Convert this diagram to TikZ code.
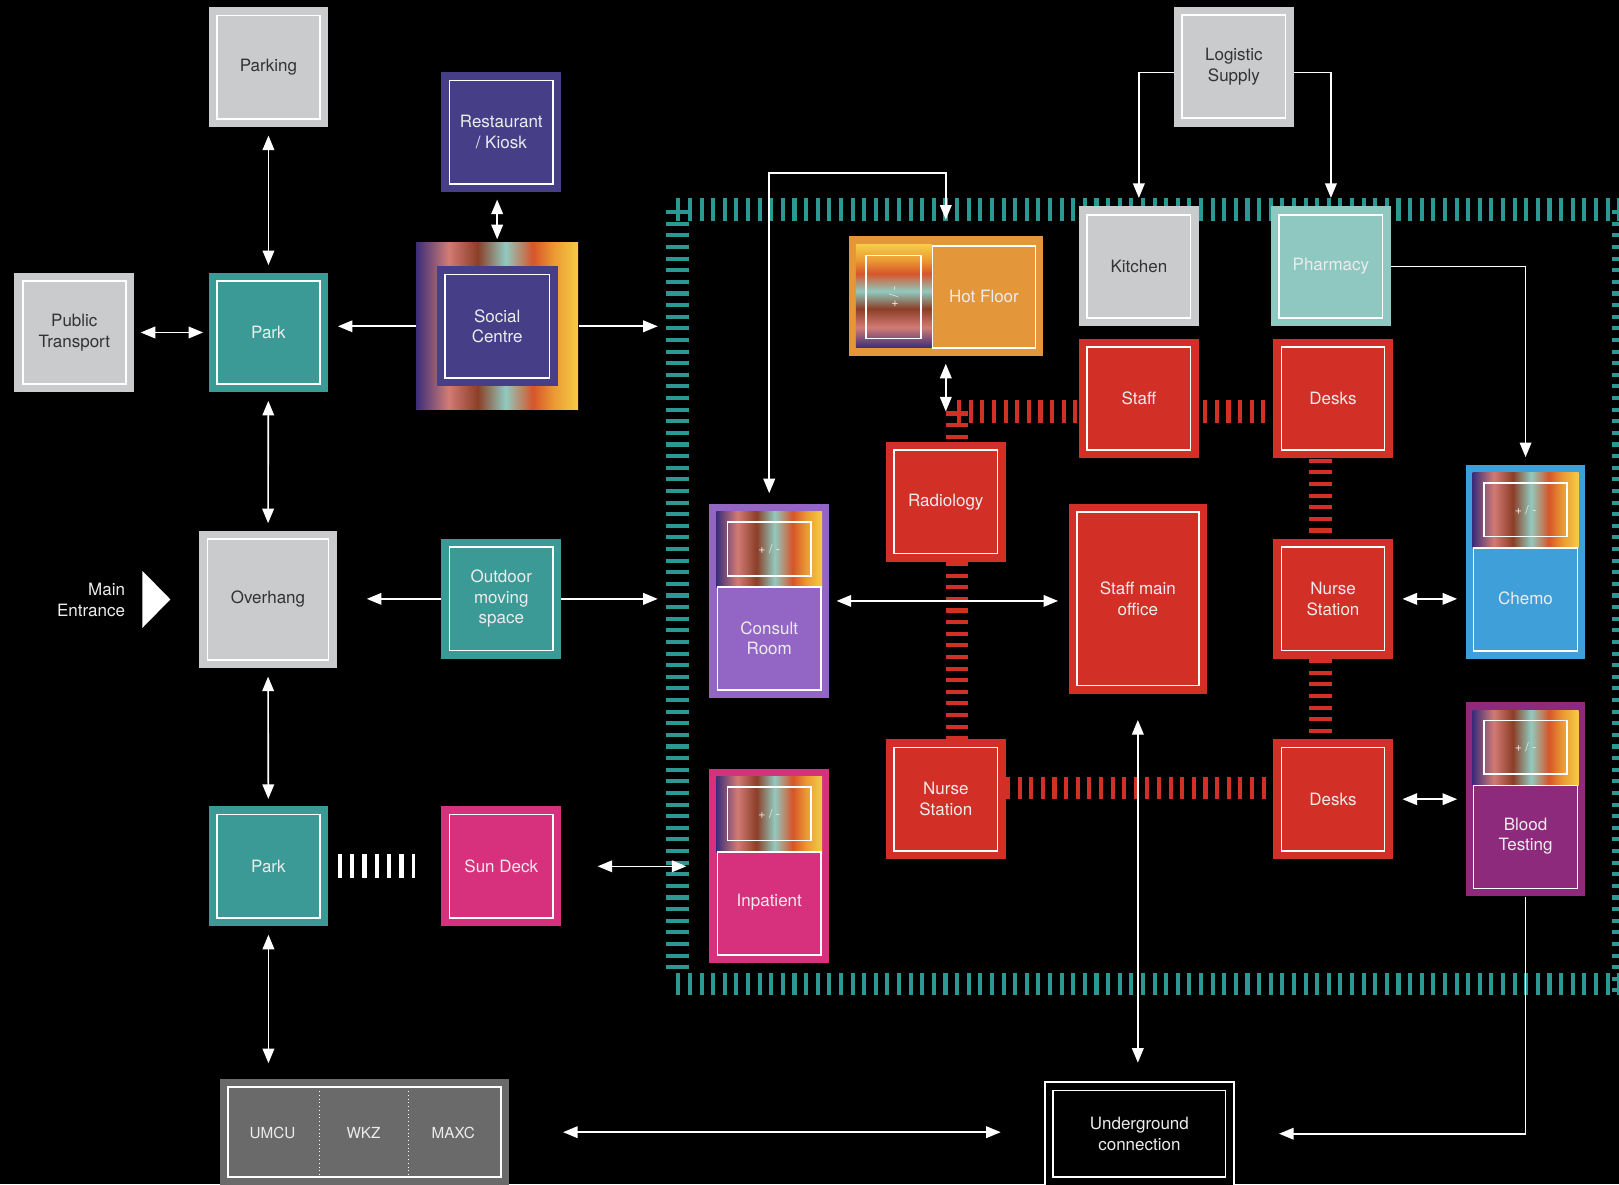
\documentclass[tikz,border=0pt]{standalone}
\usepackage{fontspec}
\setmainfont{TeX Gyre Heros}
\usetikzlibrary{arrows.meta,calc,positioning}

\definecolor{boxgrey}{HTML}{C9CBCD}
\definecolor{boxteal}{HTML}{3C9A96}
\definecolor{boxindigo}{HTML}{463F88}
\definecolor{boxmagenta}{HTML}{D7307C}
\definecolor{boxred}{HTML}{D22F26}
\definecolor{boxorange}{HTML}{E4973A}
\definecolor{boxmint}{HTML}{8FC8C0}
\definecolor{boxpurple}{HTML}{9366C6}
\definecolor{boxblue}{HTML}{3F9FD9}
\definecolor{boxplum}{HTML}{8E2A7C}
\definecolor{boxdark}{HTML}{6A6A6A}
\definecolor{fenceteal}{HTML}{2A9893}
\definecolor{lighttext}{HTML}{ECECEC}
\definecolor{darktext}{HTML}{333333}
\definecolor{gIndigo}{HTML}{3B2D7A}
\definecolor{gPink}{HTML}{D27B75}
\definecolor{gBrown}{HTML}{8C3E27}
\definecolor{gTeal}{HTML}{91CABF}
\definecolor{gRed}{HTML}{D6552A}
\definecolor{gOrange}{HTML}{EB9A33}
\definecolor{gYellow}{HTML}{F6CC46}
\pgfdeclarehorizontalshading{spectrum}{100bp}{color(0bp)=(gIndigo); color(25bp)=(gIndigo);
  color(35bp)=(gPink); color(44bp)=(gBrown); color(52.5bp)=(gTeal); color(61bp)=(gRed);
  color(67.5bp)=(gOrange); color(75bp)=(gYellow); color(100bp)=(gYellow)}

\tikzset{
  box/.style={fill=#1, inner sep=0pt, minimum width=2.9cm, minimum height=2.9cm,
    align=center, text=lighttext,
    path picture={\draw[white, line width=1.1pt]
      ([shift={(0.2cm,0.2cm)}]path picture bounding box.south west) rectangle
      ([shift={(-0.2cm,-0.2cm)}]path picture bounding box.north east);}},
  greybox/.style={box=boxgrey, text=darktext},
  card/.style={fill=#1, inner sep=0pt, minimum width=2.9cm, minimum height=4.7cm},
  link/.style={draw=white, line width=1.1pt, -{Triangle[length=10pt,width=8pt]}},
  both/.style={link, {Triangle[length=10pt,width=8pt]}-{Triangle[length=10pt,width=8pt]}},
  fence/.style={draw=#1, line width=15.6pt, dash pattern=on 2.8pt off 5.2pt},
  redlink/.style={fence=boxred},
  small/.style={font=\fontsize{8.5}{10}\selectfont}
}

\begin{document}
\begin{tikzpicture}[x=0.025cm, y=-0.025cm,
  every node/.style={font=\fontsize{11.7}{14.2}\selectfont, text=lighttext, align=center}]
  \fill[black] (0,0) rectangle (1568,1147);
  \useasboundingbox (0,0) rectangle (1568,1147);

  % department frame
  \draw[fence=fenceteal] (655,203) -- (1572,203);
  \draw[fence=fenceteal] (656,203.5) -- (656,945);
  \draw[fence=fenceteal] (655,953) -- (1572,953);
  \draw[fence=fenceteal] (1572,203.5) -- (1572,965);
  \coordinate (frame) at (645,203);

  % outside
  \node[greybox] (parking) at (260,65) {Parking};
  \node[box=boxindigo] (restaurant) at (485.5,128) {Restaurant\\/ Kiosk};
  \node[greybox] (transport) at (72,322) {Public\\Transport};
  \node[box=boxteal] (parkA) at (260,322) {Park};
  \node[shading=spectrum, minimum width=3.925cm, minimum height=4.05cm] (social) at (481.5,316) {};
  \node[box=boxindigo, minimum width=2.925cm] (socialin) at (481.5,316) {Social\\Centre};
  \node[greybox, minimum width=3.325cm, minimum height=3.325cm] (overhang) at (259.5,580.5) {Overhang};
  \node[box=boxteal] (outdoor) at (485.5,580) {Outdoor\\moving\\space};
  \node[box=boxteal] (parkB) at (260,839) {Park};
  \node[box=boxmagenta] (sundeck) at (485.5,839) {Sun Deck};

  \fill[white] (138,553) -- (165,580.5) -- (138,608) -- cycle;
  \node[anchor=east, align=right] (entrance) at (126,581) {Main\\Entrance};

  \node[box=boxdark, minimum width=7cm, minimum height=2.575cm] (campus) at (353,1096.5) {};
  \draw[white, dotted, line width=0.6pt] (309,1053) -- (309,1140);
  \draw[white, dotted, line width=0.6pt] (396,1053) -- (396,1140);
  \node[font=\fontsize{10.5}{12}\selectfont] (umcu) at (264,1097) {UMCU};
  \node[font=\fontsize{10.5}{12}\selectfont] (wkz) at (352,1097) {WKZ};
  \node[font=\fontsize{10.5}{12}\selectfont] (maxc) at (439,1097) {MAXC};

  \node[draw=white, double=black, double distance=4.7pt, line width=1.1pt,
    minimum width=4.375cm, minimum height=2.3cm] (under) at (1103.5,1098) {Underground\\connection};

  % supply
  \node[greybox] (logistic) at (1195,64.5) {Logistic\\Supply};
  \node[greybox] (kitchen) at (1103,258) {Kitchen};
  \node[box=boxmint] (pharmacy) at (1289,258) {Pharmacy};

  % hot floor
  \node[fill=boxorange, minimum width=4.7cm, minimum height=2.9cm, inner sep=0pt] (hotfloor) at (916,287) {};
  \shade[shading=spectrum, shading angle=90] (829,237) rectangle (902.3,337);
  \draw[white, line width=1.1pt] (839,247.5) rectangle (892,328);
  \node[small, rotate=90] (hotsign) at (865.5,287.5) {+ / -};
  \draw[white, line width=1.1pt] (903,238) rectangle (1003,337);
  \node (hotlabel) at (953,287.5) {Hot Floor};

  % ward
  \node[box=boxred] (staff) at (1103,386) {Staff};
  \node[box=boxred] (desksA) at (1291,386) {Desks};
  \node[box=boxred] (radiology) at (916,486) {Radiology};
  \node[box=boxred, minimum width=3.35cm, minimum height=4.6cm] (office) at (1102,580) {Staff main\\office};
  \node[box=boxred] (nurseA) at (1291,580) {Nurse\\Station};
  \node[box=boxred] (nurseB) at (916,774) {Nurse\\Station};
  \node[box=boxred] (desksB) at (1291,774) {Desks};

  \node[card=boxpurple] (consult) at (745,582) {};
  \node[card=boxmagenta] (inpatient) at (745,838.5) {};
  \node[card=boxblue] (chemo) at (1477.5,544) {};
  \node[card=boxplum] (blood) at (1477.5,774) {};
  \foreach \card in {consult,inpatient,chemo,blood} {
    \shade[shading=spectrum] ($(\card.north west)+(7,8)$) rectangle ($(\card.north east)+(-7,81)$);
    \draw[white, line width=1.1pt] ($(\card.north west)+(18,18)$) rectangle ($(\card.north east)+(-18,70)$);
    \node[small] (\card-sign) at ($(\card.north)+(0,44)$) {+ / -};
    \draw[white, line width=1.1pt] ($(\card.north west)+(8,81)$) rectangle ($(\card.south east)+(-8,-8)$);
  }
  \node (consulttext) at ($(consult.north)+(0,130.5)$) {Consult\\Room};
  \node (inpatienttext) at ($(inpatient.north)+(0,130)$) {Inpatient};
  \node (chemotext) at ($(chemo.north)+(0,130)$) {Chemo};
  \node (bloodtext) at ($(blood.north)+(0,130)$) {Blood\\Testing};

  % red links
  \coordinate (rcorner) at (927,398.5);
  \draw[redlink] (rcorner) -- (rcorner -| staff.west);
  \draw[redlink] (rcorner) -- (rcorner |- radiology.north);
  \draw[redlink, shorten <=0.1cm, shorten >=0.1cm] ([yshift=-0.3125cm]staff.east) -- ([yshift=-0.3125cm]desksA.west);
  \draw[redlink] ([xshift=0.275cm]radiology.south) -- ([xshift=0.275cm]nurseB.north);
  \draw[redlink] ([xshift=-0.3cm]desksA.south) -- ([xshift=-0.3cm]nurseA.north);
  \draw[redlink] ([xshift=-0.3cm]nurseA.south) -- ([xshift=-0.3cm]desksB.north);
  \draw[redlink] ([yshift=0.275cm]nurseB.east) -- ([yshift=0.275cm]desksB.west);

  \draw[white, line width=16.3pt, dash pattern=on 3pt off 5.5pt,
    shorten <=0.215cm, shorten >=0.625cm] (parkB) -- (sundeck);

  % arrows
  \draw[both, shorten <=0.2cm, shorten >=0.175cm] (parking) -- (parkA);
  \draw[both, shorten <=0.075cm, shorten >=0.175cm] (social.north) -- (social.north |- restaurant.south);
  \draw[both, shorten <=0.15cm, shorten >=0.125cm] (transport) -- (parkA);
  \draw[link, shorten >=0.225cm] (social.west) -- (social.west -| parkA.east);
  \draw[link, shorten >=0.2cm] (social.east) -- (social.east -| frame);
  \draw[both, shorten <=0.2cm, shorten >=0.175cm] (parkA) -- (overhang);
  \draw[link, shorten >=0.725cm] (outdoor.west) -- (outdoor.west -| overhang.east);
  \draw[link, shorten >=0.2cm] (outdoor.east) -- (outdoor.east -| frame);
  \draw[both, shorten <=0.2cm, shorten >=0.175cm] (overhang) -- (parkB);
  \draw[both, shorten <=0.2cm, shorten >=0.375cm] (parkB.south) -- (parkB.south |- campus.north);
  \draw[both, shorten <=0.875cm, shorten >=0.55cm] (sundeck.east) -- (sundeck.east -| inpatient.west);
  \draw[both, shorten <=1.3cm, shorten >=1.15cm] (campus.east) -- (campus.east -| under.west);
  \draw[link, shorten >=1.175cm] (blood.south) |- (under.east);
  \draw[both, shorten <=0.625cm, shorten >=0.55cm] (office.south) -- (office.south |- under.north);
  \draw[both, shorten <=0.175cm, shorten >=0.25cm] (consult.east) -- (consult.east -| office.west);
  \draw[both, shorten <=0.225cm, shorten >=0.2cm] (nurseA.east) -- (nurseA.east -| chemo.west);
  \draw[both, shorten <=0.225cm, shorten >=0.2cm] (desksB.east) -- (desksB.east -| blood.west);
  \draw[link, shorten >=0.175cm] (pharmacy.east) -| (chemo.north);
  \draw[link, shorten >=0.2cm] ([yshift=-0.14cm]logistic.west) -| (kitchen.north);
  \draw[link, shorten >=0.2cm] ([yshift=-0.14cm]logistic.east) -| (pharmacy.north);
  \draw[both, shorten <=0.25cm, shorten >=0.4cm] (consult.north) |- ([yshift=1.525cm]hotfloor.north) -- (hotfloor.north);
  \draw[both, shorten <=0.175cm] (hotfloor.south) -- (hotfloor.south |- rcorner);
\end{tikzpicture}
\end{document}
